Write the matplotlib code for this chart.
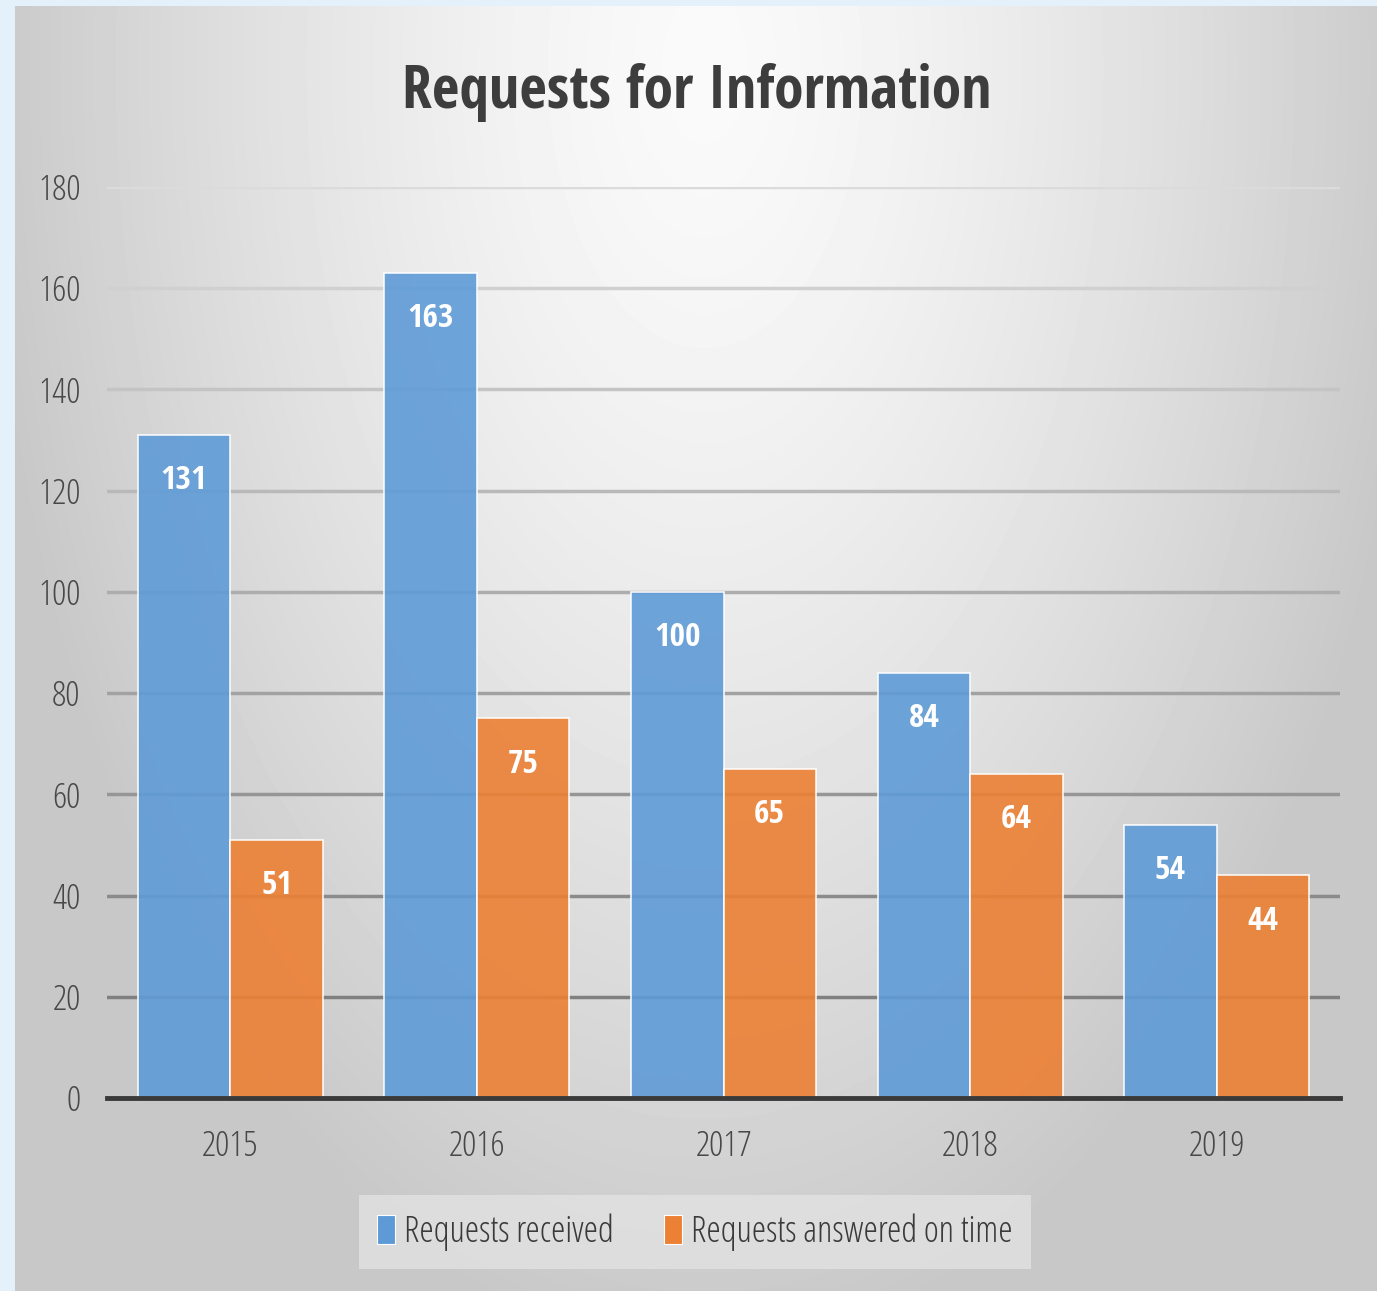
import numpy as np
import matplotlib
matplotlib.use("Agg")
from matplotlib import pyplot as plt
from matplotlib.patches import Patch
from matplotlib.font_manager import FontProperties

years = ['2015', '2016', '2017', '2018', '2019']
received = [131, 163, 100, 84, 54]
answered = [51, 75, 65, 64, 44]
y_ticks = [0, 20, 40, 60, 80, 100, 120, 140, 160, 180]

BOLD = ['Open Sans Condensed', 'DejaVu Sans']
BLUE = '#5e9bd6'
ORANGE = '#ec8034'
W, H = 1377, 1291


def light(size):
    return FontProperties(family=['Open Sans', 'DejaVu Sans'], stretch='condensed',
                          weight='light', size=size)


fig = plt.figure(figsize=(W / 100, H / 100), dpi=100)
fig.patch.set_facecolor('#e4f0fa')

# gray radial-ish gradient panel
bg = fig.add_axes([15 / W, 0, 1362 / W, 1285 / H], zorder=-10)
xx, yy = np.meshgrid(np.linspace(0, 1362, 400), np.linspace(0, 1285, 400))
t = np.sqrt(((xx - 690) / 700) ** 2 + ((yy - 60) / 1250) ** 2)
val = np.clip(250 - 48 * t ** 1.4, 200, 250) / 255
bg.imshow(val, cmap='gray', vmin=0, vmax=1, aspect='auto',
          extent=[0, 1, 0, 1], origin='upper', interpolation='bilinear')
bg.axis('off')

ax = fig.add_axes([107 / W, 193 / H, 1233 / W, 911 / H])
ax.set_facecolor('none')

x = np.arange(len(years))
bw = 0.375
for v in y_ticks[1:]:
    shade = 0.86 - 0.36 * (180 - v) / 160
    ax.axhline(v, color=(shade, shade, shade), lw=2.5, zorder=1)

b1 = ax.bar(x - bw / 2, received, bw, color=BLUE, alpha=0.9,
            edgecolor='white', linewidth=1.2, zorder=2)
b2 = ax.bar(x + bw / 2, answered, bw, color=ORANGE, alpha=0.9,
            edgecolor='white', linewidth=1.2, zorder=2)

for bars in (b1, b2):
    for r in bars:
        ax.annotate(f'{int(r.get_height())}',
                    (r.get_x() + r.get_width() / 2, r.get_height()),
                    xytext=(0, -33), textcoords='offset points',
                    ha='center', va='center', color='white',
                    fontsize=24, fontweight='bold', family=BOLD, zorder=3)

ax.set_xlim(-0.5, 4.5)
ax.set_ylim(0, 180)
ax.set_yticks(y_ticks)
ax.set_xticks(x)
ax.set_xticklabels(years)
for s in ('top', 'right', 'left'):
    ax.spines[s].set_visible(False)
ax.spines['bottom'].set_color('#3a3a3a')
ax.spines['bottom'].set_linewidth(3.5)
ax.spines['bottom'].set_zorder(4)
ax.tick_params(length=0, labelcolor='#484848')
ax.tick_params(axis='y', pad=19)
ax.tick_params(axis='x', pad=23)
for lab in ax.get_xticklabels() + ax.get_yticklabels():
    lab.set_fontproperties(light(25.5))

fig.text(697 / W, 1 - 92 / H, 'Requests for Information', ha='center',
         va='center', fontsize=43, fontweight='bold', color='#3d3d3d',
         family=BOLD)

handles = [Patch(facecolor=BLUE, edgecolor='white', lw=0.8),
           Patch(facecolor=ORANGE, edgecolor='white', lw=0.8)]
leg = fig.legend(handles, ['Requests received', 'Requests answered on time'],
                 loc='center', bbox_to_anchor=(695 / W, 1 - 1232 / H),
                 ncol=2, frameon=True, fancybox=False, handlelength=0.5,
                 handleheight=0.85, handletextpad=0.25, columnspacing=1.4,
                 borderpad=0.5, borderaxespad=0, prop=light(26))
leg.get_frame().set_facecolor('#e2e2e2')
leg.get_frame().set_edgecolor('none')
for txt in leg.get_texts():
    txt.set_color('#3a3a3a')

fig.savefig('out.png', dpi=100)
